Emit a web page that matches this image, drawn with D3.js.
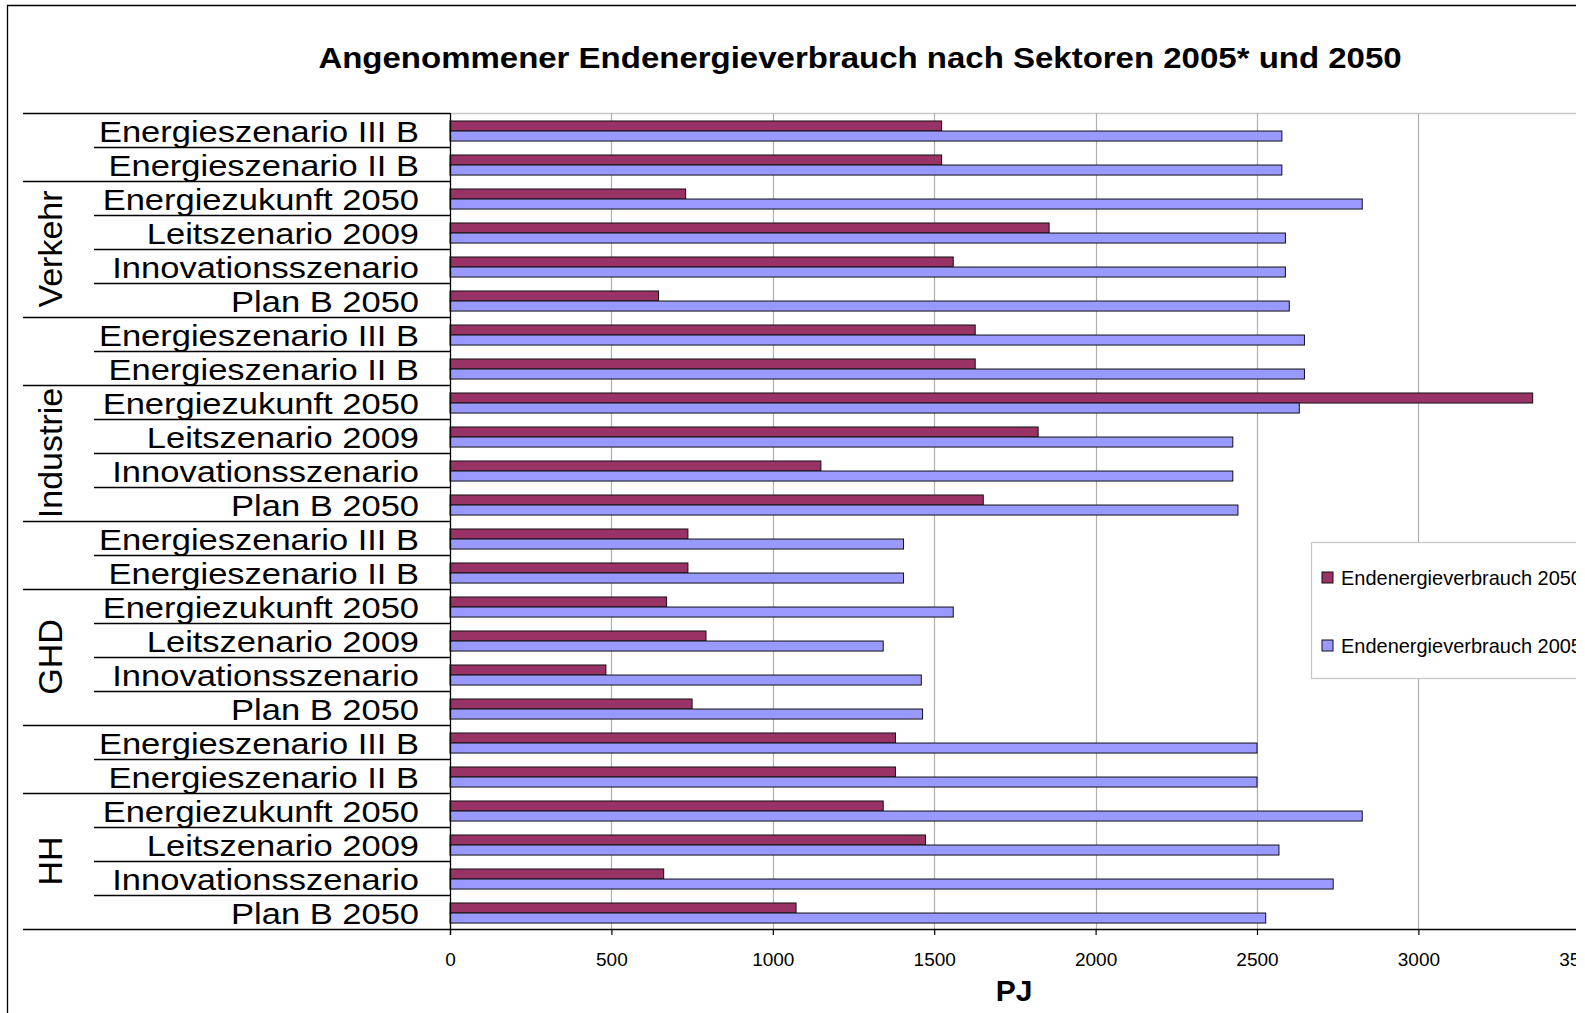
<!DOCTYPE html>
<html>
<head>
<meta charset="utf-8">
<script src="https://cdn.jsdelivr.net/npm/d3@7"></script>
<style>
  html, body { margin: 0; padding: 0; background: #fff; }
  svg { display: block; font-family: "Liberation Sans", Arial, sans-serif; }
</style>
</head>
<body>
<svg id="chart" width="1585" height="1013"></svg>
<script>
// ---------- data ----------
const title = "Angenommener Endenergieverbrauch nach Sektoren 2005* und 2050";
const sectors = ["Verkehr", "Industrie", "GHD", "HH"];
const scenarios = ["Energieszenario III B", "Energieszenario II B", "Energiezukunft 2050",
                   "Leitszenario 2009", "Innovationsszenario", "Plan B 2050"];
const seriesNames = ["Endenergieverbrauch 2050", "Endenergieverbrauch 2005"];
// values top to bottom, sector by sector (PJ)
const verbrauch2050 = [
  1523, 1523, 730, 1856, 1559, 646,
  1627, 1627, 3354, 1822, 1149, 1652,
  737, 737, 671, 793, 483, 750,
  1380, 1380, 1342, 1473, 662, 1072
];
const verbrauch2005 = [
  2577, 2577, 2826, 2588, 2588, 2600,
  2647, 2647, 2631, 2425, 2425, 2441,
  1405, 1405, 1559, 1342, 1460, 1464,
  2500, 2500, 2826, 2568, 2736, 2527
];
const xTicks = [0, 500, 1000, 1500, 2000, 2500, 3000, 3500];
const xAxisTitle = "PJ";
const seriesColors = ["#993366", "#9999FF"];

// ---------- layout ----------
const svg = d3.select("#chart");
const W = 1585, H = 1013;
const plotLeft = 450, plotTop = 113, plotBottom = 929, clipRight = 1576;

const rows = [];
sectors.forEach((s, si) => scenarios.forEach((c, ci) => rows.push({sector: s, si, scenario: c, ci})));
rows.forEach((r, i) => { r.v2050 = verbrauch2050[i]; r.v2005 = verbrauch2005[i]; r.i = i; });

const x = d3.scaleLinear().domain([0, 3500]).range([plotLeft, plotLeft + 3500 * 0.3228]);
const y = d3.scaleBand().domain(rows.map(r => r.i)).range([plotTop, plotBottom]).paddingInner(0).paddingOuter(0);
const bh = y.bandwidth();
const ySub = d3.scaleBand().domain([0, 1]).range([bh * 0.235, bh * 0.825]).padding(0);

svg.append("defs").append("clipPath").attr("id", "clip")
  .append("rect").attr("x", 0).attr("y", 0).attr("width", clipRight).attr("height", H);

const g = svg.append("g").attr("clip-path", "url(#clip)");

// outer chart border
g.append("path").attr("d", `M7.5,${H + 5} V5.5 H${W + 5}`)
  .attr("fill", "none").attr("stroke", "#000").attr("stroke-width", 1.3);

// title
g.append("text")
  .attr("transform", "translate(860,68) scale(1.1,1)")
  .attr("text-anchor", "middle").attr("font-weight", "bold").attr("font-size", 30)
  .text(title);

// plot top border
g.append("line").attr("x1", plotLeft).attr("x2", W).attr("y1", plotTop + 0.5).attr("y2", plotTop + 0.5)
  .attr("stroke", "#c8c8c8").attr("stroke-width", 1.3);

// gridlines
g.selectAll("line.grid").data(xTicks.filter(d => d > 0)).join("line")
  .attr("class", "grid")
  .attr("x1", d => Math.round(x(d)) + 0.5).attr("x2", d => Math.round(x(d)) + 0.5)
  .attr("y1", plotTop).attr("y2", plotBottom)
  .attr("stroke", "#b0b0b0").attr("stroke-width", 1.2);

// bars
const rowG = g.selectAll("g.row").data(rows).join("g")
  .attr("class", "row").attr("transform", d => `translate(0,${y(d.i)})`);
rowG.append("rect")
  .attr("x", x(0)).attr("y", ySub(0))
  .attr("width", d => x(d.v2050) - x(0)).attr("height", ySub.bandwidth())
  .attr("fill", seriesColors[0]).attr("stroke", "#111").attr("stroke-width", 1);
rowG.append("rect")
  .attr("x", x(0)).attr("y", ySub(1))
  .attr("width", d => x(d.v2005) - x(0)).attr("height", ySub.bandwidth())
  .attr("fill", seriesColors[1]).attr("stroke", "#111").attr("stroke-width", 1);

// category separators (multi-level axis)
const boundaries = d3.range(0, rows.length + 1);
g.selectAll("line.sep").data(boundaries).join("line")
  .attr("class", "sep")
  .attr("x1", d => (d % 6 === 0 || d % 6 === 2) ? 23 : 94)
  .attr("x2", d => d === rows.length ? clipRight : plotLeft)
  .attr("y1", d => (d === rows.length ? plotBottom : y(d)) + 0.5)
  .attr("y2", d => (d === rows.length ? plotBottom : y(d)) + 0.5)
  .attr("stroke", "#000").attr("stroke-width", d => d === rows.length ? 1.6 : 1.3);

// y axis line
g.append("line").attr("x1", plotLeft + 0.5).attr("x2", plotLeft + 0.5)
  .attr("y1", plotTop).attr("y2", plotBottom + 6)
  .attr("stroke", "#000").attr("stroke-width", 1.3);

// scenario labels
g.selectAll("text.cat").data(rows).join("text")
  .attr("class", "cat")
  .attr("transform", d => `translate(419,${y(d.i) + 28.5}) scale(1.15,1)`)
  .attr("text-anchor", "end").attr("font-size", 30)
  .text(d => d.scenario);

// sector labels (span rows 3-6 of each block)
g.selectAll("text.sector").data(sectors).join("text")
  .attr("class", "sector")
  .attr("transform", (d, si) => {
    const cy = (y(si * 6 + 2) + y(si * 6 + 5) + bh) / 2;
    return `translate(62,${cy}) rotate(-90)`;
  })
  .attr("text-anchor", "middle").attr("font-size", 34)
  .text(d => d);

// x axis
const xAxis = d3.axisBottom(x).tickValues(xTicks).tickFormat(d3.format("d"))
  .tickSize(6).tickSizeOuter(0).tickPadding(17.5);
const ax = g.append("g").attr("transform", `translate(0,${plotBottom})`).call(xAxis);
ax.select(".domain").remove();
ax.selectAll(".tick line").attr("stroke", "#000").attr("stroke-width", 1.2);
ax.selectAll(".tick text").attr("font-size", 19).attr("fill", "#000")
  .attr("font-family", "'Liberation Sans', Arial, sans-serif");

// axis title
g.append("text").attr("x", 1014).attr("y", 1001)
  .attr("text-anchor", "middle").attr("font-weight", "bold").attr("font-size", 30)
  .text(xAxisTitle);

// legend
const lg = g.append("g");
lg.append("rect").attr("x", 1311.5).attr("y", 542.5).attr("width", 400).attr("height", 136)
  .attr("fill", "#fff").attr("stroke", "#c8c8c8").attr("stroke-width", 1.3);
const legY = [572, 640];
seriesNames.forEach((name, k) => {
  lg.append("rect").attr("x", 1322).attr("y", legY[k]).attr("width", 11).attr("height", 11)
    .attr("fill", seriesColors[k]).attr("stroke", "#111").attr("stroke-width", 1);
  lg.append("text").attr("transform", `translate(1341,${legY[k] + 13}) scale(1.01,1)`)
    .attr("font-size", 19.8).text(name);
});
</script>
</body>
</html>
